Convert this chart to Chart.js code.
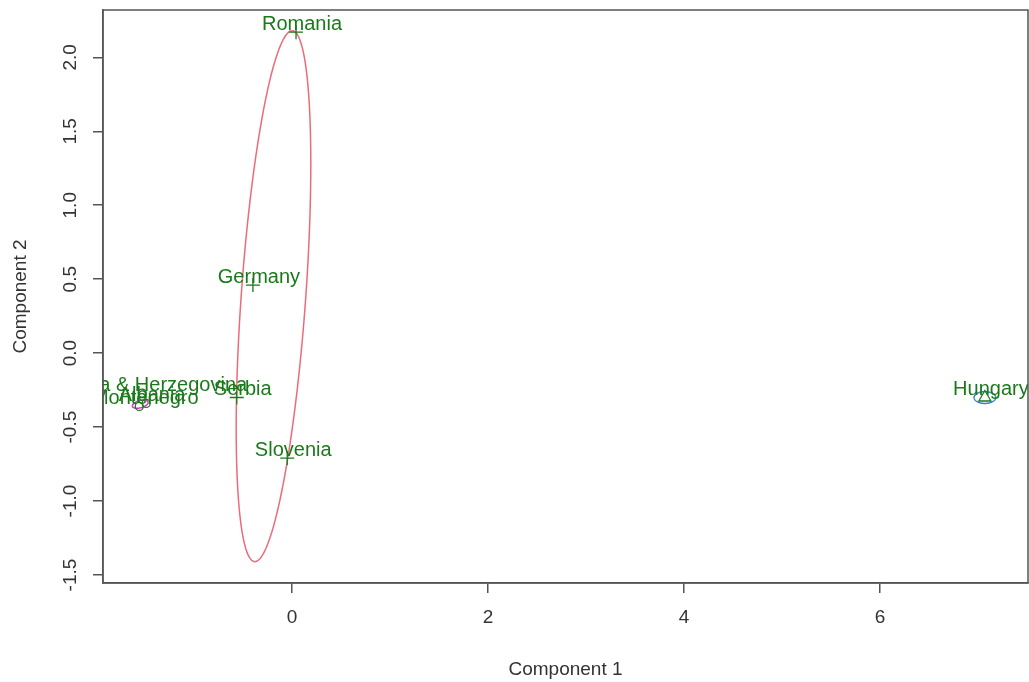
<!DOCTYPE html>
<html>
<head>
<meta charset="utf-8">
<script src="https://cdn.jsdelivr.net/npm/chart.js@4"></script>
<style>
  html, body { margin: 0; background: #fff; overflow: hidden; }
  #wrap { width: 1029px; height: 682px; position: relative; }
  canvas { display: block; }
</style>
</head>
<body>
<div id="wrap"><canvas id="chart"></canvas></div>
<script>
// dati (clusplot)
const countries = ['Romania', 'Germany', 'Serbia', 'Slovenia', 'Bosnia & Herzegovina', 'Montenegro', 'Albania', 'Hungary'];
const comp1 = [0.04, -0.40, -0.565, -0.05, -1.53, -1.56, -1.49, 7.07];
const comp2 = [2.17, 0.46, -0.30, -0.71, -0.27, -0.36, -0.34, -0.30];
const cluster = [2, 2, 2, 2, 1, 1, 1, 3];

const xTicks = [0, 2, 4, 6];
const yTicks = [-1.5, -1.0, -0.5, 0.0, 0.5, 1.0, 1.5, 2.0];

// ellissi dei cluster: centro e due semi-assi coniugati (in unità dei dati)
const ellCx = [-1.55, -0.19, 7.07];
const ellCy = [-0.345, 0.385, -0.30];
const ellAx = [0.08, 0.19, 0.11];
const ellAy = [0.012, 1.795, 0];
const ellBx = [0, 0.33, 0];
const ellBy = [0.025, 0, 0.04];

const green = '#1a7a1a';
const ellColors = ['#d633d6', '#ec6b7a', '#3a7fd0'];
const FONT = "'Liberation Sans', Arial, sans-serif";

function pointsOf(c) {
  const out = [];
  countries.forEach((name, i) => {
    if (cluster[i] === c) out.push({ x: comp1[i], y: comp2[i], name: name });
  });
  return out;
}

// plugin: ellissi, etichette e riquadro
const clusPlugin = {
  id: 'clus',
  beforeDatasetsDraw(chart) {
    const { ctx, chartArea: a, scales: { x, y } } = chart;
    ctx.save();
    ctx.beginPath();
    ctx.rect(a.left, a.top, a.right - a.left, a.bottom - a.top);
    ctx.clip();
    ellCx.forEach((cx, k) => {
      ctx.beginPath();
      for (let s = 0; s <= 120; s++) {
        const t = s / 120 * Math.PI * 2;
        const vx = cx + ellAx[k] * Math.cos(t) + ellBx[k] * Math.sin(t);
        const vy = ellCy[k] + ellAy[k] * Math.cos(t) + ellBy[k] * Math.sin(t);
        const px = x.getPixelForValue(vx), py = y.getPixelForValue(vy);
        if (s === 0) ctx.moveTo(px, py); else ctx.lineTo(px, py);
      }
      ctx.strokeStyle = ellColors[k];
      ctx.lineWidth = 1.5;
      ctx.stroke();
    });
    ctx.restore();
  },
  afterDraw(chart) {
    const { ctx, chartArea: a, scales: { x, y } } = chart;
    ctx.save();
    ctx.beginPath();
    ctx.rect(a.left, a.top, a.right - a.left, a.bottom - a.top);
    ctx.clip();
    ctx.font = '20px ' + FONT;
    ctx.fillStyle = green;
    ctx.textAlign = 'center';
    ctx.textBaseline = 'middle';
    countries.forEach((name, i) => {
      ctx.fillText(name, x.getPixelForValue(comp1[i]) + 6, y.getPixelForValue(comp2[i]) - 8);
    });
    ctx.restore();
    // riquadro
    ctx.save();
    ctx.strokeStyle = '#555';
    ctx.lineWidth = 1.5;
    ctx.strokeRect(a.left, a.top, a.right - a.left, a.bottom - a.top);
    ctx.restore();
  }
};

const ctx = document.getElementById('chart').getContext('2d');
window.chart = new Chart(ctx, {
  type: 'scatter',
  data: {
    datasets: [
      { data: pointsOf(1), pointStyle: 'circle', pointRadius: 4, borderColor: green, backgroundColor: 'transparent', borderWidth: 1.3 },
      { data: pointsOf(2), pointStyle: 'cross', pointRadius: 7, borderColor: green, borderWidth: 1.3 },
      { data: pointsOf(3), pointStyle: 'triangle', pointRadius: 7, borderColor: green, backgroundColor: 'transparent', borderWidth: 1.3 }
    ]
  },
  options: {
    responsive: true,
    maintainAspectRatio: false,
    animation: false,
    layout: { autoPadding: false, padding: { top: 10, right: 1, left: 0, bottom: 0 } },
    plugins: { legend: { display: false }, tooltip: { enabled: false } },
    scales: {
      x: {
        type: 'linear',
        min: -1.93,
        max: 7.51,
        afterBuildTicks: s => { s.ticks = xTicks.map(v => ({ value: v })); },
        afterFit: s => { s.height = 99; s.paddingLeft = 0; s.paddingRight = 0; },
        grid: { drawOnChartArea: false, drawTicks: true, tickLength: 10, color: '#555', lineWidth: 1.5 },
        border: { display: true, color: '#555', width: 1.5 },
        ticks: { font: { size: 19, family: FONT }, color: '#333', padding: 13, autoSkip: false, maxRotation: 0 },
        title: { display: true, text: 'Component 1', font: { size: 19, family: FONT }, color: '#333', padding: { top: 0, bottom: 1 } }
      },
      y: {
        type: 'linear',
        min: -1.554,
        max: 2.32,
        afterBuildTicks: s => { s.ticks = yTicks.map(v => ({ value: v })); },
        afterFit: s => { s.width = 103; s.paddingTop = 0; s.paddingBottom = 0; },
        grid: { drawOnChartArea: false, drawTicks: true, tickLength: 10, color: '#555', lineWidth: 1.5 },
        border: { display: true, color: '#555', width: 1.5 },
        ticks: {
          font: { size: 19, family: FONT }, color: '#333', padding: 6, autoSkip: false,
          minRotation: 90, maxRotation: 90, crossAlign: 'center',
          callback: v => v.toFixed(1)
        },
        title: { display: true, text: 'Component 2', font: { size: 19, family: FONT }, color: '#333', padding: { top: 9, bottom: 0 } }
      }
    }
  },
  plugins: [clusPlugin]
});
</script>
</body>
</html>
